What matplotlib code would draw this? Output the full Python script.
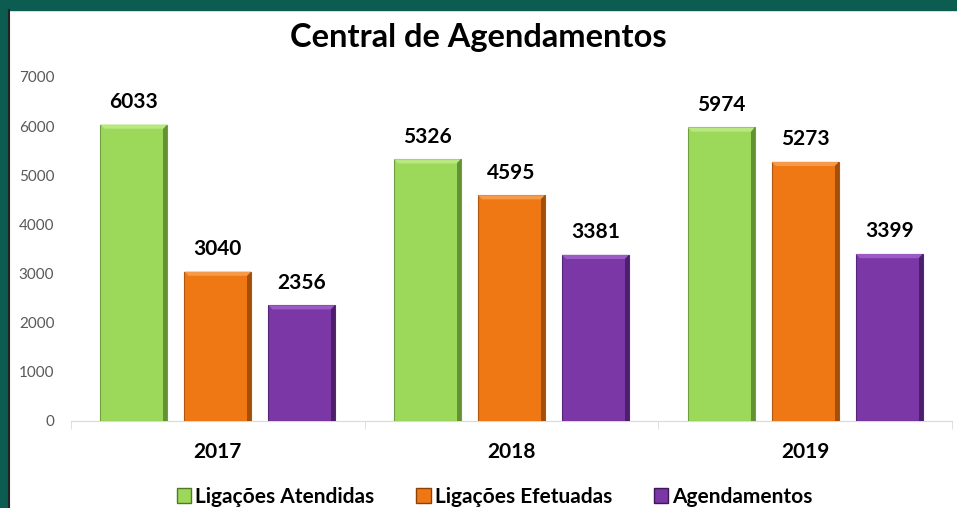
import matplotlib.pyplot as plt
import matplotlib.patches as mpatches
from matplotlib.lines import Line2D
import numpy as np

years = ["2017", "2018", "2019"]
series_names = ["Ligações Atendidas", "Ligações Efetuadas", "Agendamentos"]
atendidas = [6033, 5326, 5974]
efetuadas = [3040, 4595, 5273]
agendamentos = [2356, 3381, 3399]

COLORS = ["#9cd95a", "#f07814", "#7b37a6"]
EDGES = ["#6f9f3e", "#b0560c", "#55257a"]
TOPS = ["#b9e881", "#f59a48", "#9a5cc4"]
DARKS = ["#4f7a25", "#8a4206", "#3e1659"]
BAND = "#0d5c52"

plt.rcParams["font.family"] = ["Lato", "DejaVu Sans"]

fig = plt.figure(figsize=(9.57, 5.08), dpi=100)
fig.patch.set_facecolor("white")

# frame band on top and left, like the slide the chart came from
fig.add_artist(mpatches.Rectangle((0, 1 - 10 / 508), 1, 10 / 508, transform=fig.transFigure,
                                  color=BAND, zorder=0))
fig.add_artist(mpatches.Rectangle((0, 0), 8 / 957, 1, transform=fig.transFigure,
                                  color=BAND, zorder=0))
fig.add_artist(Line2D([9 / 957, 9 / 957], [0, 1 - 10 / 508], transform=fig.transFigure,
                      color="#222222", lw=1.5))

ax = fig.add_axes([71 / 957, 1 - 421 / 508, (952 - 71) / 957, (421 - 77) / 508])

x = np.arange(len(years))
width = 0.228
step = 0.286
bx, by = 0.014, 85  # bevel size in data units
series = [atendidas, efetuadas, agendamentos]
for i, (name, vals) in enumerate(zip(series_names, series)):
    pos = x + (i - 1) * step
    bars = ax.bar(pos, vals, width, color=COLORS[i], edgecolor=EDGES[i], linewidth=0.8,
                  label=name, zorder=3)
    for b in bars:
        x0, w, h = b.get_x(), b.get_width(), b.get_height()
        x1 = x0 + w
        # bevel: light top, dark right side
        ax.add_patch(mpatches.Polygon([(x0, h), (x1, h), (x1 - bx, h - by), (x0 + bx, h - by)],
                                      closed=True, color=TOPS[i], lw=0, zorder=4))
        ax.add_patch(mpatches.Polygon([(x1, h), (x1, 0), (x1 - bx, 0), (x1 - bx, h - by)],
                                      closed=True, color=DARKS[i], lw=0, alpha=0.75, zorder=4))
        ax.annotate(f"{int(h)}", (x0 + w / 2, h), xytext=(0, 9),
                    textcoords="offset points", ha="center", va="bottom",
                    fontsize=15, fontweight="bold", color="black")

ax.set_xlim(-0.5, len(years) - 0.5)
ax.set_ylim(0, 7000)
ax.set_yticks(range(0, 7001, 1000))
ax.tick_params(axis="y", length=0, labelsize=11, labelcolor="#595959", pad=12)
ax.set_xticks(x)
ax.set_xticklabels(years, fontsize=15, fontweight="bold")
ax.tick_params(axis="x", length=0, pad=15)
ax.set_xticks(np.arange(-0.5, len(years)), minor=True)
ax.tick_params(axis="x", which="minor", length=6, color="#d9d9d9")
for side in ["top", "right", "left"]:
    ax.spines[side].set_visible(False)
ax.spines["bottom"].set_color("#d9d9d9")

fig.suptitle("Central de Agendamentos", y=0.955, fontsize=23.5, fontweight="bold")

handles = [mpatches.Patch(facecolor=COLORS[i], edgecolor=DARKS[i]) for i in range(3)]
fig.legend(handles, series_names, loc="lower center", bbox_to_anchor=(0.517, -0.035), ncol=3,
           frameon=False, prop={"weight": "bold", "size": 15}, handlelength=0.7,
           handleheight=0.7, handletextpad=0.2, columnspacing=2.0)

fig.savefig("out.png", dpi=100)
